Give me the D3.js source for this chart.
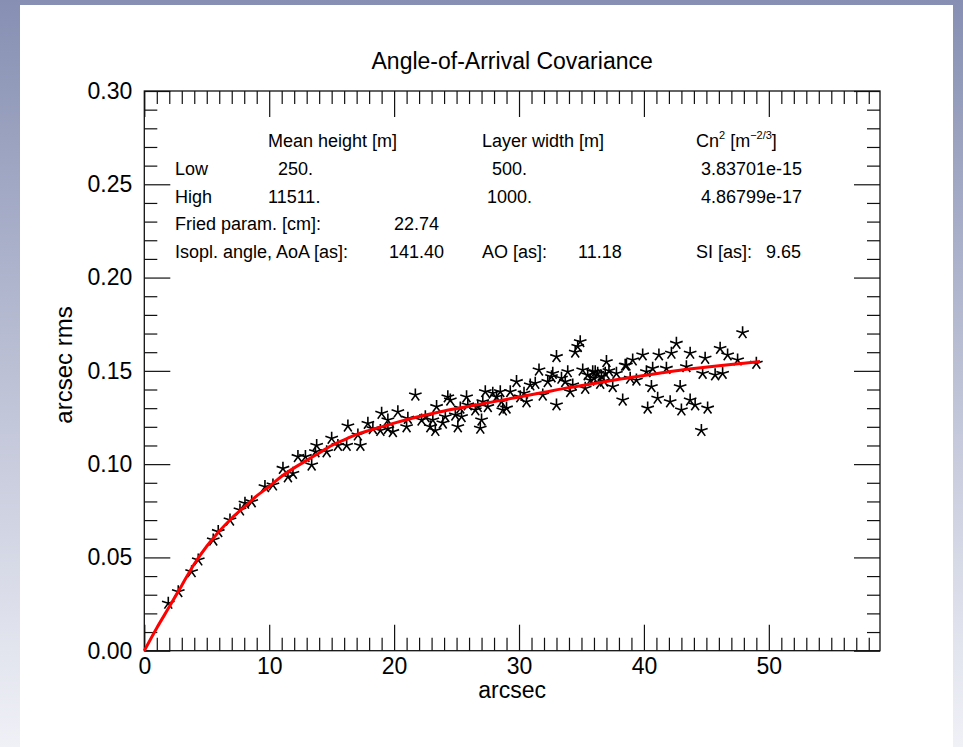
<!DOCTYPE html>
<html><head><meta charset="utf-8">
<script src="https://cdn.jsdelivr.net/npm/d3@7"></script>
<style>html,body{margin:0;padding:0;overflow:hidden;}svg{display:block;}</style>
</head><body>
<script>
// ---- data ----
const title = "Angle-of-Arrival Covariance";
const xLabel = "arcsec";
const yLabel = "arcsec rms";
const xTicks = [0, 10, 20, 30, 40, 50];
const yTicks = [0.00, 0.05, 0.10, 0.15, 0.20, 0.25, 0.30];
const xDomain = [0, 58.9];
const yDomain = [0, 0.30];

// measured points (separation [arcsec], covariance [arcsec rms])
const sepX = [1.92,2.72,3.79,4.32,5.52,5.92,6.86,7.66,8.06,8.6,9.66,10.3,11.1,11.5,11.9,12.3,12.9,13.4,13.7,13.8,14.6,15.0,15.5,16.3,16.2,17.3,17.1,17.9,18.3,19.0,18.9,19.5,
  19.9,20.3,21.0,21.1,21.7,22.2,22.5,23.1,23.3,23.4,24.1,24.3,24.5,24.9,25.1,25.4,25.8,25.9,26.5,26.7,26.9,27.0,27.3,27.5,27.9,28.5,28.7,29.0,29.3,29.8,30.1,30.6,30.9,31.3,31.6,31.9,32.3,32.6,32.7,33.0,33.0,33.4,33.7,33.9,34.1,34.3,34.5,34.7,34.9,35.1,35.3,35.5,35.9,36.3,36.5,37.0,37.5,37.8,38.3,38.6,
  19.5,22.9,28.2,30.4,23.9,25.3,27.1,28.6,35.7,36.1,36.0,36.6,37.2,36.8,
  36.9,38.5,38.9,39.1,39.4,39.9,40.2,40.3,40.6,40.7,41.1,41.2,41.8,42.1,42.2,42.6,42.9,43.0,43.4,43.7,43.7,44.1,44.6,44.7,44.9,45.1,45.7,46.1,46.3,46.7,47.5,47.9,49.0];
const covY = [0.0254,0.0316,0.0423,0.0486,0.0593,0.0638,0.070,0.0754,0.079,0.0798,0.0879,0.0888,0.0977,0.0932,0.095,0.104,0.104,0.0995,0.1066,0.110,0.1066,0.1138,0.110,0.1204,0.110,0.110,0.1156,0.1218,0.119,0.1272,0.118,0.119,
  0.1174,0.128,0.120,0.1245,0.137,0.1236,0.1254,0.1236,0.118,0.1308,0.1254,0.136,0.1343,0.1263,0.120,0.1254,0.136,0.1317,0.129,0.1308,0.1192,0.1236,0.1388,0.1308,0.138,0.1388,0.129,0.130,0.1388,0.1442,0.136,0.1334,0.1424,0.1433,0.1504,0.137,0.1442,0.1468,0.1486,0.1317,0.1576,0.146,0.1442,0.1495,0.1388,0.1424,0.160,0.163,0.1656,0.1504,0.1406,0.1478,0.1495,0.1486,0.1433,0.1549,0.1415,0.1486,0.1343,0.153,
  0.1236,0.120,0.136,0.138,0.122,0.130,0.1334,0.1334,0.145,0.1495,0.146,0.147,0.150,0.1445,
  0.1486,0.153,0.146,0.1558,0.145,0.1585,0.1495,0.130,0.1415,0.1513,0.1353,0.1585,0.1513,0.1334,0.1594,0.1647,0.1415,0.129,0.1522,0.1594,0.1343,0.1317,0.118,0.1486,0.1567,0.130,0.1478,0.162,0.1486,0.1585,0.1558,0.1704,0.154];

// model fit (red curve)
const fitX = [0,1,2,3,4,5,6,7,8,9,10,11,12,13,14,15,16,17,18,19,20,22,24,26,28,30,32,34,36,38,40,42,44,46,48,49.3];
const fitY = [0,0.0122,0.0235,0.035,0.0465,0.056,0.064,0.071,0.077,0.083,0.088,0.0935,0.098,0.102,0.106,0.110,0.113,0.116,0.118,0.120,0.122,0.1255,0.1285,0.131,0.1335,0.136,0.1385,0.141,0.1432,0.1455,0.1475,0.1495,0.1512,0.1527,0.1541,0.155];

// annotation table
const annotCols = ["Mean height [m]", "Layer width [m]"];
const rowNames = ["Low", "High"];
const meanHeights = ["250.", "11511."];
const layerWidths = ["500.", "1000."];
const cn2Values = ["3.83701e-15", "4.86799e-17"];
const friedLabel = "Fried param. [cm]:";
const friedValue = "22.74";
const isoLabel = "Isopl. angle, AoA [as]:";
const isoValue = "141.40";
const aoLabel = "AO [as]:";
const aoValue = "11.18";
const siLabel = "SI [as]:";
const siValue = "9.65";

// ---- drawing ----
const W = 963, H = 747;
const svg = d3.select("body").append("svg").attr("width", W).attr("height", H);
const defs = svg.append("defs");
const grad = defs.append("linearGradient").attr("id","bg").attr("x1",0).attr("y1",0).attr("x2",0).attr("y2",1);
grad.append("stop").attr("offset","0%").attr("stop-color","#8790b3");
grad.append("stop").attr("offset","100%").attr("stop-color","#f0f1f7");
svg.append("rect").attr("width",W).attr("height",H).attr("fill","url(#bg)");
svg.append("rect").attr("x",20).attr("y",5).attr("width",933).attr("height",742).attr("fill","#ffffff");

const m = {left:144.3, right:880, top:91, bottom:650.7};
const x = d3.scaleLinear().domain(xDomain).range([m.left, m.right]);
const y = d3.scaleLinear().domain(yDomain).range([m.bottom, m.top]);

const font = "'Liberation Sans', Arial, Helvetica, sans-serif";
const ink = "#111";

// frame
svg.append("rect").attr("x",m.left).attr("y",m.top).attr("width",m.right-m.left).attr("height",m.bottom-m.top)
  .attr("fill","none").attr("stroke",ink).attr("stroke-width",1.3);

const xMinor = d3.range(1, 59, 1).filter(v => v % 10 !== 0);
const yMinor = d3.range(1, 30, 1).map(v => v/100).filter((v,i) => (i+1) % 5 !== 0);
const majL = 26, minL = 13;

// bottom ticks (inward)
const gb = svg.append("g").attr("transform",`translate(0,${m.bottom})`);
gb.call(d3.axisBottom(x).tickValues(xTicks).tickSize(-majL).tickPadding(7).tickFormat(d3.format("d")));
gb.append("g").call(d3.axisBottom(x).tickValues(xMinor).tickSize(-minL).tickFormat(""));
// top ticks
const gt = svg.append("g").attr("transform",`translate(0,${m.top})`);
gt.call(d3.axisTop(x).tickValues(xTicks).tickSize(-majL).tickFormat(""));
gt.append("g").call(d3.axisTop(x).tickValues(xMinor).tickSize(-minL).tickFormat(""));
// left ticks
const gl = svg.append("g").attr("transform",`translate(${m.left},0)`);
gl.call(d3.axisLeft(y).tickValues(yTicks).tickSize(-majL).tickPadding(12).tickFormat(d3.format(".2f")));
gl.append("g").call(d3.axisLeft(y).tickValues(yMinor).tickSize(-minL).tickFormat(""));
// right ticks
const gr = svg.append("g").attr("transform",`translate(${m.right},0)`);
gr.call(d3.axisRight(y).tickValues(yTicks).tickSize(-majL).tickFormat(""));
gr.append("g").call(d3.axisRight(y).tickValues(yMinor).tickSize(-minL).tickFormat(""));

svg.selectAll(".domain").remove();
svg.selectAll(".tick line").attr("stroke",ink).attr("stroke-width",1.2);
svg.selectAll(".tick text").attr("font-family",font).attr("font-size",23).attr("fill","#000");

// title & labels
svg.append("text").attr("x",(m.left+m.right)/2).attr("y",69).attr("text-anchor","middle")
  .attr("font-family",font).attr("font-size",23).text(title);
svg.append("text").attr("x",(m.left+m.right)/2).attr("y",698).attr("text-anchor","middle")
  .attr("font-family",font).attr("font-size",23).text(xLabel);
svg.append("text").attr("transform",`translate(72,365) rotate(-90)`).attr("text-anchor","middle")
  .attr("font-family",font).attr("font-size",24).text(yLabel);

// asterisks
const armLen = 6.6;
const angles = d3.range(5).map(k => -Math.PI/2 + k*2*Math.PI/5);
const starPath = (cx, cy) => angles.map(a => `M${cx},${cy}L${cx+armLen*Math.cos(a)},${cy+armLen*Math.sin(a)}`).join("");
svg.append("g").selectAll("path").data(d3.range(sepX.length)).join("path")
  .attr("d", i => starPath(x(sepX[i]), y(covY[i])))
  .attr("stroke","#000").attr("stroke-width",1.6).attr("fill","none");

// fit line
const line = d3.line().x((d,i) => x(fitX[i])).y((d,i) => y(fitY[i])).curve(d3.curveMonotoneX);
svg.append("path").datum(fitX).attr("d", line).attr("fill","none").attr("stroke","#ff0000").attr("stroke-width",3);

// annotations
const fs = 18;
const at = (px, py, s) => svg.append("text").attr("x",px).attr("y",py).attr("font-family",font).attr("font-size",fs).attr("fill","#000").text(s);
at(268, 147, annotCols[0]);
at(482, 147, annotCols[1]);
const cn = svg.append("text").attr("x",696).attr("y",147).attr("font-family",font).attr("font-size",fs);
cn.append("tspan").text("Cn");
cn.append("tspan").attr("font-size",11).attr("dy",-8).text("2");
cn.append("tspan").attr("dy",8).text(" [m");
cn.append("tspan").attr("font-size",11).attr("dy",-8).text("\u22122/3");
cn.append("tspan").attr("dy",8).text("]");
const rowY = [175, 203];
rowNames.forEach((r,i) => {
  at(175, rowY[i], r);
  at(i === 0 ? 278 : 268, rowY[i], meanHeights[i]);
  at(i === 0 ? 492 : 487, rowY[i], layerWidths[i]);
  at(701, rowY[i], cn2Values[i]);
});
at(175, 230, friedLabel); at(394, 230, friedValue);
at(175, 258, isoLabel); at(389, 258, isoValue);
at(482, 258, aoLabel); at(578, 258, aoValue);
at(696, 258, siLabel); at(766, 258, siValue);
</script>
</body></html>
